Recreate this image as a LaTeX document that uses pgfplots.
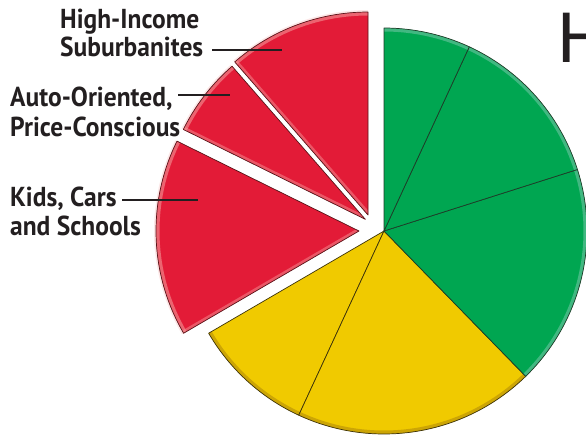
\documentclass[border=0pt]{standalone}
\usepackage{pgfplots}
\pgfplotsset{compat=1.18}
\usepackage{pgfplotstable}
\usepackage{fontspec}
\setmainfont{PT Sans}
\newfontfamily\labelfont[FakeStretch=0.93]{PT Sans}
\newfontfamily\titlefont{Liberation Sans}
\definecolor{pieRed}{RGB}{227,27,55}
\definecolor{pieGreen}{RGB}{0,166,81}
\definecolor{pieYellow}{RGB}{240,202,0}
\definecolor{rimRed}{RGB}{245,160,160}
\definecolor{rimGreen}{RGB}{120,200,170}
\definecolor{rimYellow}{RGB}{175,135,10}
\definecolor{lineRed}{RGB}{90,20,25}
\definecolor{lineGreen}{RGB}{30,60,40}
\definecolor{lineYellow}{RGB}{60,50,10}
\definecolor{labelgray}{RGB}{35,31,32}

% slices counter-clockwise from 12 o'clock; share in percent
\pgfplotstableread{
name          share fillc     rimc      linec      explang explode
HighIncome    11.4  pieRed    rimRed    lineRed    135     22.6
AutoOriented   6.3  pieRed    rimRed    lineRed    148     22
KidsCars      15.7  pieRed    rimRed    lineRed    180     25
YellowB        9.7  pieYellow rimYellow lineYellow 0       0
YellowA       19.2  pieYellow rimYellow lineYellow 0       0
GreenC        17.6  pieGreen  rimGreen  lineGreen  0       0
GreenB        13.2  pieGreen  rimGreen  lineGreen  0       0
GreenA         6.9  pieGreen  rimGreen  lineGreen  0       0
}\piedata

\begin{document}
\begin{tikzpicture}
\begin{axis}[x=1bp, y=1bp, xmin=0, xmax=586, ymin=0, ymax=438,
  at={(0,0)}, anchor=south west, hide axis, clip=false]
\pgfplotsextra{
  \xdef\cumangle{90}
  \foreach \i in {0,...,7}{
    \pgfplotstablegetelem{\i}{share}\of\piedata \let\share\pgfplotsretval
    \pgfplotstablegetelem{\i}{fillc}\of\piedata \let\fillc\pgfplotsretval
    \pgfplotstablegetelem{\i}{rimc}\of\piedata \let\rimc\pgfplotsretval
    \pgfplotstablegetelem{\i}{linec}\of\piedata \let\linec\pgfplotsretval
    \pgfplotstablegetelem{\i}{explang}\of\piedata \let\ea\pgfplotsretval
    \pgfplotstablegetelem{\i}{explode}\of\piedata \let\ed\pgfplotsretval
    \pgfmathsetmacro\aa{\cumangle}
    \pgfmathsetmacro\ab{\cumangle+3.6*\share}
    \xdef\cumangle{\ab}
    \pgfmathsetmacro\tx{384+\ed*cos(\ea)}
    \pgfmathsetmacro\ty{207+\ed*sin(\ea)}
    \ifdim\ed pt>0pt
      \fill[rimRed, opacity=0.25] (axis cs:\tx,\ty) -- ++(\aa:205bp) arc[start angle=\aa, end angle=\ab, radius=205bp] -- cycle;
    \fi
    \fill[fill=\fillc] (axis cs:\tx,\ty) -- ++(\aa:203bp) arc[start angle=\aa, end angle=\ab, radius=203bp] -- cycle;
    \begin{scope}
      \clip (axis cs:\tx,\ty) -- ++(\aa:203bp) arc[start angle=\aa, end angle=\ab, radius=203bp] -- cycle;
      \draw[draw=\rimc, line width=7bp, opacity=0.55] (axis cs:\tx,\ty) ++(\aa:203bp) arc[start angle=\aa, end angle=\ab, radius=203bp];
      \ifdim\ed pt>0pt
        \draw[draw=\rimc, line width=6bp, opacity=0.45] (axis cs:\tx,\ty) ++(\ab:203bp) -- (axis cs:\tx,\ty);
      \fi
    \end{scope}
    \draw[draw=\linec, line width=0.7bp, line join=round] (axis cs:\tx,\ty) -- ++(\aa:203bp) arc[start angle=\aa, end angle=\ab, radius=203bp] -- cycle;
  }
}
% leader lines
\draw[labelgray, line width=1.4bp] (axis cs:212,388) -- (axis cs:282,388);
\draw[labelgray, line width=1.4bp] (axis cs:178,343) -- (axis cs:230,343);
\draw[labelgray, line width=1.4bp] (axis cs:122,238) -- (axis cs:198,238);
% labels
\begin{scope}[every node/.style={anchor=base west, inner sep=0pt, text=labelgray, font=\labelfont\bfseries\fontsize{27.5}{32}\selectfont}]
\node at (axis cs:60,409) {High-Income};
\node at (axis cs:60,382) {Suburbanites};
\node at (axis cs:10,332) {Auto-Oriented,};
\node at (axis cs:10,302) {Price-Conscious};
\node at (axis cs:10,232) {Kids, Cars};
\node at (axis cs:10,203) {and Schools};
\end{scope}
\node[anchor=base west, inner sep=0pt, text=labelgray, font=\titlefont\fontsize{72}{80}\selectfont] at (axis cs:557,376) {H};
\end{axis}
\pgfresetboundingbox
\path (0,0) rectangle (586bp,438bp);
\end{tikzpicture}
\end{document}
